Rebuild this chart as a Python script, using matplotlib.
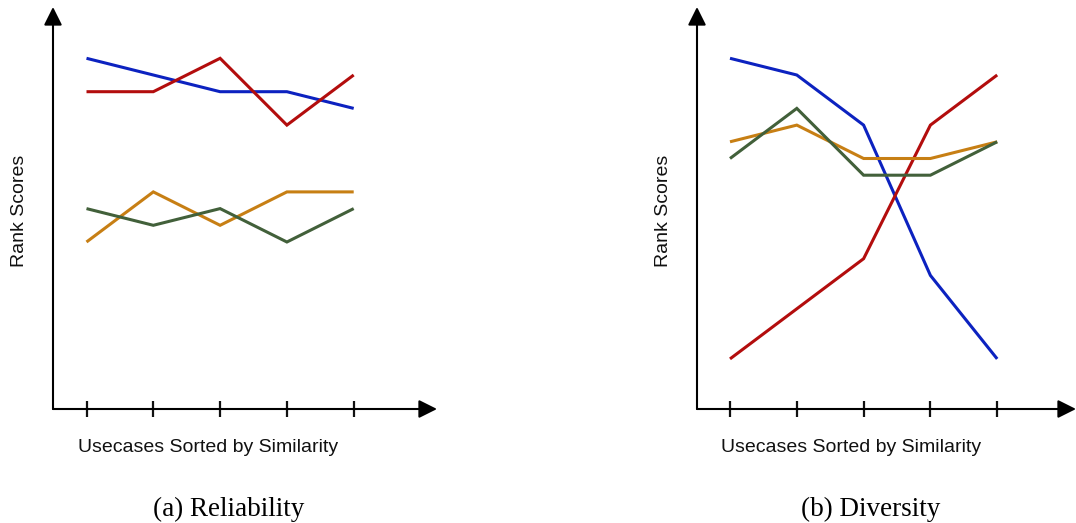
import matplotlib
matplotlib.use("Agg")
import matplotlib.pyplot as plt

# Use-case positions along the similarity axis
usecases = [0, 1, 2, 3, 4]

# Reliability rank scores per method
rel_blue = [21, 20, 19, 19, 18]
rel_red = [19, 19, 21, 17, 20]
rel_orange = [10, 13, 11, 13, 13]
rel_green = [12, 11, 12, 10, 12]

# Diversity rank scores per method
div_blue = [21, 20, 17, 8, 3]
div_red = [3, 6, 9, 17, 20]
div_orange = [16, 17, 15, 15, 16]
div_green = [15, 18, 14, 14, 16]

x_label = "Usecases Sorted by Similarity"
y_label = "Rank Scores"
captions = ["(a) Reliability", "(b) Diversity"]

colors = {"blue": "#0c22c0", "red": "#b30d0d", "orange": "#c77f14", "green": "#42603a"}

W, H = 1076, 523
fig = plt.figure(figsize=(W / 100, H / 100), dpi=100)


def px(x, y):
    return x / W, 1 - y / H


def panel(x0, x1, first_tick, y_top, series, caption, ylab_x, xlab_x, cap_x):
    y0 = 409
    step = 66.8
    unit = 16.7
    ax = fig.add_axes([x0 / W, (H - y0) / H, (x1 - x0) / W, (y0 - y_top) / H])
    xmin = -(first_tick - x0) / step
    xmax = (x1 - first_tick) / step
    ax.set_xlim(xmin, xmax)
    ymax = (y0 - y_top) / unit
    ax.set_ylim(0, ymax)
    for s in ax.spines.values():
        s.set_visible(False)
    ax.set_yticks([])
    ax.set_xticks(usecases)
    ax.set_xticklabels([])
    ax.tick_params(axis="x", direction="inout", length=11, width=1.6, color="#111111")
    # axes drawn as arrows
    style = "-|>,head_length=1.1,head_width=0.55"
    ax.annotate("", xy=(xmax, 0), xytext=(xmin, 0),
                arrowprops=dict(arrowstyle=style, lw=1.5, color="black",
                                shrinkA=0, shrinkB=0),
                annotation_clip=False)
    ax.annotate("", xy=(xmin, ymax), xytext=(xmin, 0),
                arrowprops=dict(arrowstyle=style, lw=1.5, color="black",
                                shrinkA=0, shrinkB=0),
                annotation_clip=False)
    for vals, c in series:
        ax.plot(usecases, vals, color=colors[c], lw=2.2, solid_capstyle="butt",
                solid_joinstyle="miter", clip_on=False)
    fig.text(*px(ylab_x, 211), y_label, rotation=90, ha="center", va="center",
             fontsize=14, family="Liberation Sans", color="#111111")
    fig.text(*px(xlab_x, 452), x_label, ha="center", va="baseline",
             fontsize=14, family="Liberation Sans", color="#111111")
    fig.text(*px(cap_x, 516), caption, ha="center", va="baseline",
             fontsize=19.5, family="Liberation Serif", color="black")
    return ax


panel(53, 437, 86.5, 7,
      [(rel_blue, "blue"), (rel_red, "red"), (rel_orange, "orange"), (rel_green, "green")],
      captions[0], 20, 208, 229)
panel(697, 1076, 730, 7,
      [(div_blue, "blue"), (div_red, "red"), (div_orange, "orange"), (div_green, "green")],
      captions[1], 664, 851, 871)

fig.savefig("out.png", dpi=100)
